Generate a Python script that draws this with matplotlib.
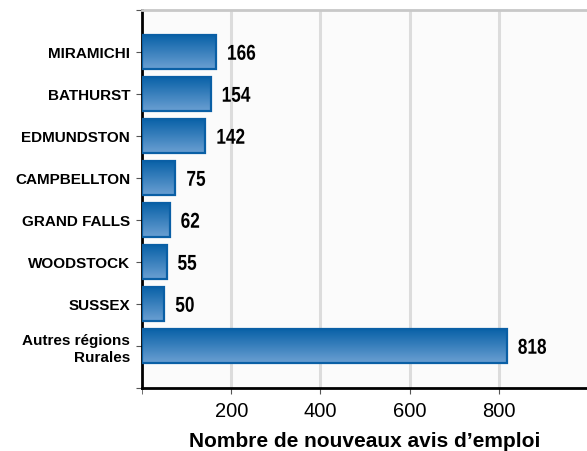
import numpy as np
import matplotlib
matplotlib.use('Agg')
from matplotlib import pyplot as plt
from matplotlib import transforms
from matplotlib.colors import LinearSegmentedColormap
from matplotlib.textpath import TextPath
from matplotlib.patches import PathPatch
from matplotlib.font_manager import FontProperties

regions = ['MIRAMICHI', 'BATHURST', 'EDMUNDSTON', 'CAMPBELLTON', 'GRAND FALLS',
           'WOODSTOCK', 'SUSSEX', 'Autres régions\nRurales']
values = [166, 154, 142, 75, 62, 55, 50, 818]
xticks = [200, 400, 600, 800]

plt.rcParams['font.family'] = ['Liberation Sans', 'DejaVu Sans']

fig = plt.figure(figsize=(5.87, 4.52), dpi=100)
ax = fig.add_axes([142/587, 63/452, 446/587, 378/452])
ax.set_facecolor('#fbfbfb')
ax.set_xlim(0, 1000)
ax.set_ylim(8, -1)

ypos = np.arange(len(values))
h = 0.8
cmap = LinearSegmentedColormap.from_list('bar', ['#0a62a8', '#6a9fd2'])
grad = np.linspace(0, 1, 64).reshape(-1, 1)
lab_font = FontProperties(family='Liberation Sans', weight='bold')
lab_size = 15.5  # points
px = fig.dpi / 72.0

for y, v in zip(ypos, values):
    # gradient fill, dark on top
    ax.imshow(grad, cmap=cmap, aspect='auto', extent=(0, v, y + h/2, y - h/2),
              zorder=3, interpolation='bicubic')
    ax.add_patch(plt.Rectangle((0, y - h/2), v, h, fill=False, ec='#0a5fa5',
                               lw=1.6, zorder=4))
    # condensed bold value label (narrowed text path)
    tp = TextPath((0, 0), str(v), size=lab_size, prop=lab_font)
    tr = (transforms.Affine2D().scale(0.8 * px, px)
          .translate(11, -0.36 * lab_size * px)
          + transforms.ScaledTranslation(v, y, ax.transData))
    ax.add_patch(PathPatch(tp, transform=tr, fc='black', ec='none', zorder=5,
                           clip_on=False))

ax.set_yticks(list(ypos) + [-1, 8])
ax.set_yticklabels(regions + ['', ''], fontsize=11, fontweight='bold')
ax.set_xticks(xticks)
ax.set_xticklabels([str(t) for t in xticks], fontsize=14.5)
ax.set_xticks([0], minor=True)
ax.tick_params(axis='y', length=4.5, color='#555555', pad=4)
ax.tick_params(axis='x', which='both', length=4.5, color='#555555', pad=5)

ax.grid(axis='x', color='#dcdcdc', lw=2.2, zorder=0)
ax.set_axisbelow(True)

ax.spines['left'].set_linewidth(2)
ax.spines['bottom'].set_linewidth(2)
ax.spines['top'].set_color('#c8c8c8')
ax.spines['top'].set_linewidth(2)
ax.spines['right'].set_visible(False)

ax.set_xlabel("Nombre de nouveaux avis d\u2019emploi", fontsize=15,
              fontweight='bold', labelpad=8)

fig.savefig('out.png', dpi=100)
